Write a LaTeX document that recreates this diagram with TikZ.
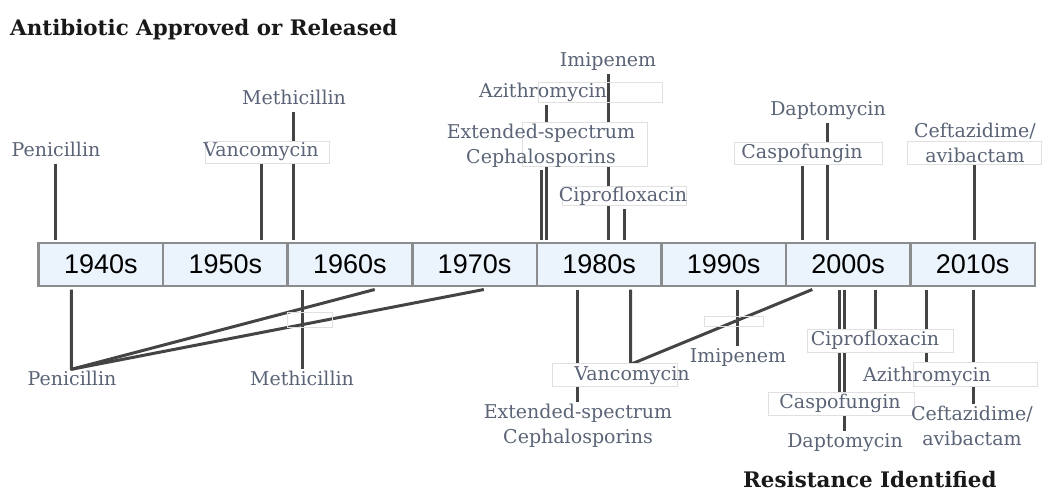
\documentclass[tikz,border=0pt]{standalone}
\usepackage{fontspec}
\setmainfont{DejaVu Serif}
\newfontfamily\yearfont{Liberation Sans}
\usetikzlibrary{positioning, backgrounds}
\definecolor{drugtext}{RGB}{90,100,118}
\definecolor{stemgray}{RGB}{68,68,68}
\definecolor{decadefill}{RGB}{235,243,252}
\definecolor{decadeedge}{RGB}{138,140,142}
\definecolor{ghostedge}{RGB}{224,224,224}

\begin{document}
\begin{tikzpicture}[x=1pt, y=-1pt,
    drugpair/.style={font=\fontsize{19}{25}\selectfont, text=drugtext, inner sep=2pt, align=center},
    drug/.style={drugpair, text height=14pt, text depth=5pt},
    decade/.style={draw=decadeedge, line width=2.5pt, fill=decadefill, minimum width=124.55pt, minimum height=43.3pt, inner sep=0pt, font=\yearfont\fontsize{27}{30}\selectfont},
    heading/.style={font=\bfseries\fontsize{21.4}{26}\selectfont, text=black!90, inner sep=0pt, anchor=base west},
    stem/.style={draw=stemgray, line width=3pt, line join=round},
    ghost/.style={draw=ghostedge, line width=0.8pt, fill=white},
    hollow/.style={draw=ghostedge, line width=0.8pt}]
    \useasboundingbox (0,0) rectangle (1042,493);

    % Headings
    \node[heading] (approved) at (10,35) {Antibiotic Approved or Released};
    \node[heading] (resisted) at (743,487) {Resistance Identified};

    % Decade bar
    \foreach \i/\yr in {0/1940s, 1/1950s, 2/1960s, 3/1970s, 4/1980s, 5/1990s, 6/2000s, 7/2010s} {
        \pgfmathsetmacro\xpos{38.6 + 124.55*(\i+0.5)}
        \node[decade] (d\i) at (\xpos,264.4) {\yr};
    }

    % Label boxes
    \draw[ghost] (205,141) rectangle (329,163);
    \draw[hollow] (538,82) rectangle (662,102);
    \draw[ghost] (522,122) rectangle (647,166);
    \draw[ghost] (562,186) rectangle (686,205);
    \draw[ghost] (734,142) rectangle (882,164);
    \draw[ghost] (907,141) rectangle (1041,164);
    \draw[hollow] (287.5,312.6) rectangle (332,327.5);
    \draw[hollow] (704,316) rectangle (763,326);
    \draw[ghost] (552,363) rectangle (677,386);
    \draw[ghost] (807,329) rectangle (953,352);
    \draw[ghost] (913,362) rectangle (1037,386);
    \draw[ghost] (768,392) rectangle (914,415);

    % Approved (above the bar)
    \node[drug] (penA) at (56,152) {Penicillin};
    \node[drug] (vanA) at (261,152) {Vancomycin};
    \node[drug] (metA) at (294,100) {Methicillin};
    \node[drug] (impA) at (608,62) {Imipenem};
    \node[drug] (aziA) at (543,93) {Azithromycin};
    \node[drugpair] (extA) at (541,146) {Extended-spectrum\\Cephalosporins};
    \node[drug] (cipA) at (623,197) {Ciprofloxacin};
    \node[drug] (dapA) at (828,111) {Daptomycin};
    \node[drug] (casA) at (802,154) {Caspofungin};
    \node[drugpair] (cefA) at (975,143) {Ceftazidime/\\avibactam};

    % Resistance (below the bar)
    \node[drug] (penB) at (72,381) {Penicillin};
    \node[drug] (metB) at (302,381) {Methicillin};
    \node[drugpair] (extB) at (578,426) {Extended-spectrum\\Cephalosporins};
    \node[drug] (vanB) at (632,376) {Vancomycin};
    \node[drug] (impB) at (738,358) {Imipenem};
    \node[drug] (cipB) at (875,341) {Ciprofloxacin};
    \node[drug] (aziB) at (927,377) {Azithromycin};
    \node[drug] (casB) at (840,404) {Caspofungin};
    \node[drug] (dapB) at (845,443) {Daptomycin};
    \node[drugpair] (cefB) at (972,426) {Ceftazidime/\\avibactam};

    % Points on the bar
    \foreach \name/\x in {penA/55, vanA/261, metA/293, impA/608, aziA/546, extA/541, cipA/624, dapA/827, casA/802, cefA/974}
        \coordinate (\name T) at (\x,240);
    \foreach \name/\x in {penB/71.3, pen60/374.7, pen70/483.8, metB/302, extB/577.7, vanB/630.7, van00/812.3, impB/737, cipB/875, aziB/926, casB/839.3, dapB/844, cefB/973}
        \coordinate (\name T) at (\x,289.5);

    % Stems
    \begin{scope}[on background layer]
        \foreach \name in {penA, vanA, metA, impA, aziA, extA, cipA, dapA, casA, cefA}
            \draw[stem] (\name.south -| \name T) -- (\name T);
        \foreach \name in {metB, extB, impB, cipB, aziB, casB, dapB, cefB}
            \draw[stem] (\name T) -- (\name.north -| \name T);
        \draw[stem] (penBT) -- (penB.north -| penBT) -- (pen60T);
        \draw[stem] (penB.north -| penBT) -- (pen70T);
        \draw[stem] (vanBT) -- (vanB.north -| vanBT) -- (van00T);
    \end{scope}
\end{tikzpicture}
\end{document}
